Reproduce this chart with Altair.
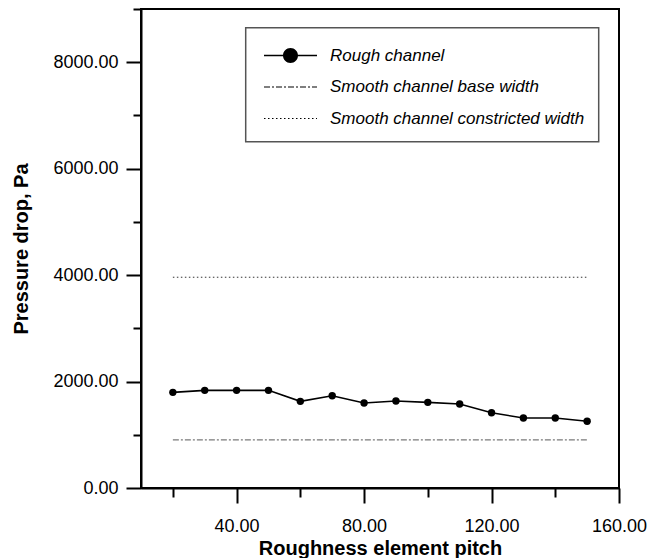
import altair as alt
import pandas as pd

# ---- data ----
pitch = [20, 30, 40, 50, 60, 70, 80, 90, 100, 110, 120, 130, 140, 150]
rough = [1797, 1835, 1835, 1835, 1628, 1733, 1596, 1634, 1609, 1577, 1414, 1315, 1315, 1253]
smooth_x = [20, 150]
smooth_base = [905, 905]
smooth_constricted = [3960, 3960]
series_names = ["Rough channel", "Smooth channel base width", "Smooth channel constricted width"]

x_ticks = [20, 40, 60, 80, 100, 120, 140, 160]
y_ticks = [0, 1000, 2000, 3000, 4000, 5000, 6000, 7000, 8000, 9000]

df_rough = pd.DataFrame({"pitch": pitch, "dp": rough, "series": series_names[0]})
df_base = pd.DataFrame({"pitch": smooth_x, "dp": smooth_base, "series": series_names[1]})
df_con = pd.DataFrame({"pitch": smooth_x, "dp": smooth_constricted, "series": series_names[2]})
df_all = pd.concat([df_rough, df_base, df_con], ignore_index=True)

FONT = "Liberation Sans"

# ---- legend symbol paths (unit: sqrt(size)/2 px) ----
SYM = 26.5
U = SYM / 2.0


def rect(x0, x1, hy):
    return f"M{x0:.4f},{-hy:.4f}H{x1:.4f}V{hy:.4f}H{x0:.4f}Z"


def pattern_path(segs, thick):
    out, pos, i = [], 0.0, 0
    total = 2 * SYM
    while pos < total - 0.1:
        seg = segs[i % len(segs)]
        if i % 2 == 0:
            end = min(pos + seg, total)
            out.append(rect(pos / U - 2, end / U - 2, thick / 2 / U))
        pos += seg
        i += 1
    return "".join(out)


r = 7.5 / U
rough_path = (
    rect(-2, -r + 0.02, 0.75 / U)
    + rect(r - 0.02, 2, 0.75 / U)
    + f"M{-r:.4f},0A{r:.4f},{r:.4f},0,1,1,{r:.4f},0A{r:.4f},{r:.4f},0,1,1,{-r:.4f},0Z"
)
base_path = pattern_path([6, 2, 2, 2], 1.0)
dot_path = pattern_path([1.5, 2.5], 1.0)

xs = alt.Scale(domain=[10, 160], nice=False, zero=False)
ys = alt.Scale(domain=[0, 9000], nice=False, zero=True)

x_axis = alt.Axis(
    values=x_ticks,
    labelExpr="datum.value % 40 === 0 ? format(datum.value, '.2f') : ''",
    tickSize={"condition": {"test": "datum.value % 40 === 0", "value": 15}, "value": 9},
    grid=False, domainColor="black", domainWidth=2, tickColor="black", tickWidth=2,
    labelFont=FONT, labelFontSize=18, labelColor="black", labelPadding=14,
    labelFlush=False, labelOverlap=False,
    title="Roughness element pitch", titleFont=FONT, titleFontSize=20,
    titleFontWeight="bold", titleColor="black", titleX=239, titleY=60,
    titleBaseline="middle", titleAlign="center",
)
y_axis = alt.Axis(
    values=y_ticks,
    labelExpr="datum.value % 2000 === 0 ? format(datum.value, '.2f') : ''",
    tickSize={"condition": {"test": "datum.value % 2000 === 0", "value": 15}, "value": 8},
    grid=False, domainColor="black", domainWidth=2, tickColor="black", tickWidth=2,
    labelFont=FONT, labelFontSize=18, labelColor="black", labelPadding=8,
    labelFlush=False, labelOverlap=False,
    title="Pressure drop, Pa", titleFont=FONT, titleFontSize=20,
    titleFontWeight="bold", titleColor="black", titleX=-120, titleY=239.5,
    titleBaseline="middle", titleAlign="center", titleAngle=270,
)

base = alt.Chart(df_all)

rough_line = base.transform_filter(f"datum.series == '{series_names[0]}'").mark_line(
    color="black", strokeWidth=1.6
).encode(x=alt.X("pitch:Q", scale=xs, axis=x_axis), y=alt.Y("dp:Q", scale=ys, axis=y_axis))

rough_pts = base.transform_filter(f"datum.series == '{series_names[0]}'").mark_point(
    filled=True, color="black", size=55, opacity=1
).encode(x="pitch:Q", y="dp:Q")

base_line = base.transform_filter(f"datum.series == '{series_names[1]}'").mark_line(
    color="#7a7a7a", strokeWidth=1.2, strokeDash=[6, 2, 2, 2]
).encode(x="pitch:Q", y="dp:Q")

con_line = base.transform_filter(f"datum.series == '{series_names[2]}'").mark_line(
    color="#333333", strokeWidth=1.0, strokeDash=[1.5, 2.5]
).encode(x="pitch:Q", y="dp:Q")

legend_layer = base.transform_filter("false").mark_point(filled=True, color="black", opacity=1).encode(
    x="pitch:Q", y="dp:Q",
    shape=alt.Shape(
        "series:N",
        scale=alt.Scale(domain=series_names, range=[rough_path, base_path, dot_path]),
        legend=alt.Legend(
            title=None, orient="none", legendX=104.7, legendY=18.7,
            padding=14.3, strokeColor="#555555", fillColor="white",
            symbolSize=SYM * SYM, symbolStrokeWidth=0, symbolFillColor="black",
            symbolOpacity=1,
            symbolOffset=17, labelOffset=26, rowPadding=9.5,
            labelFont=FONT, labelFontSize=17, labelFontStyle="italic",
            labelColor="black", labelLimit=400,
        ),
    ),
)

chart = alt.layer(con_line, base_line, rough_line, rough_pts, legend_layer).properties(
    width=478, height=479,
    autosize="none",
    padding={"left": 133, "top": 1, "right": 30, "bottom": 72},
    background="white",
).configure_view(stroke="black", strokeWidth=2).configure_legend(strokeWidth=1.5)

chart.save("out.html", embed_options={"renderer": "svg", "actions": False})
